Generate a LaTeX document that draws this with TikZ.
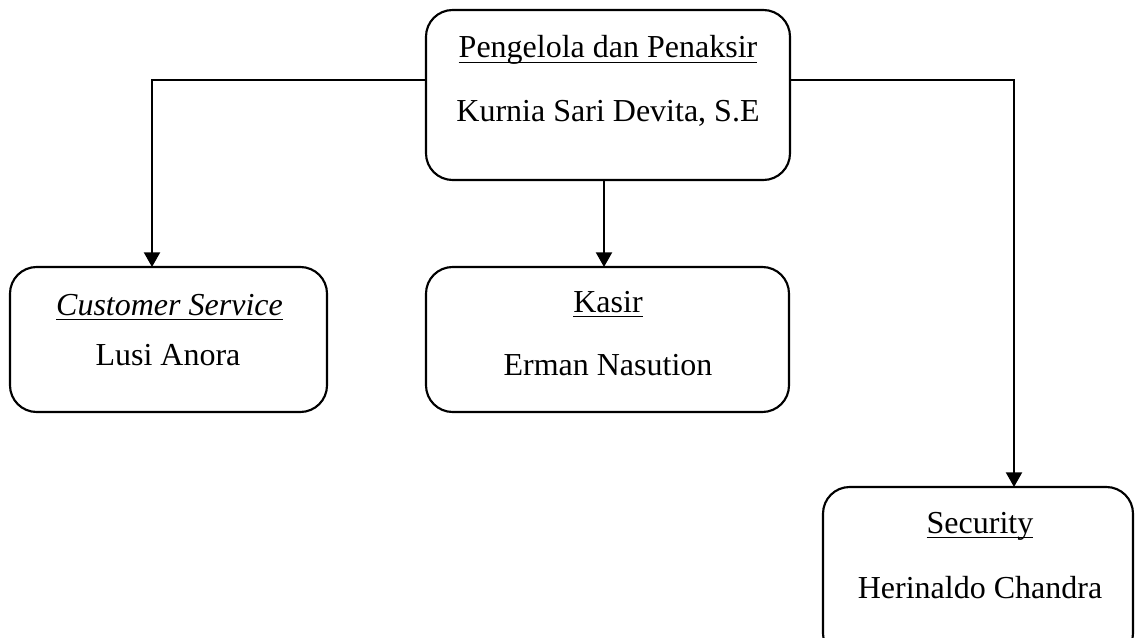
\documentclass[tikz,border=0pt]{standalone}
\usepackage{fontspec}
\setmainfont{Liberation Serif}
\usetikzlibrary{arrows.meta}
\newcommand{\ulx}[1]{\setbox0\hbox{#1}\rlap{\rule[-4pt]{\wd0}{1.3pt}}\box0}
\tikzset{
  orgbox/.style={draw, line width=1.6pt, rounded corners=20pt, inner sep=0pt, outer sep=0pt},
  lbl/.style={anchor=base, inner sep=0pt, font=\fontsize{24}{28}\selectfont},
  conn/.style={line width=1.6pt},
  arr/.style={conn, -{Triangle[length=11pt,width=12pt]}}
}
\begin{document}
\begin{tikzpicture}[x=0.75pt,y=-0.75pt]
\useasboundingbox (0,0) rectangle (1135,638);
\clip (0,0) rectangle (1135,638);
% boxes
\node[orgbox, minimum width=273pt, minimum height=127.5pt] (top) at (608,95) {};
\node[orgbox, minimum width=237.75pt, minimum height=108.75pt] (cs) at (168.5,339.5) {};
\node[orgbox, minimum width=272.25pt, minimum height=108.75pt] (kasir) at (607.5,339.5) {};
\node[orgbox, minimum width=232.5pt, minimum height=129.75pt] (sec) at (978,573.5) {};
% labels
\node[lbl] (t1) at (608,58) {\ulx{Pengelola dan Penaksir}};
\node[lbl] (t2) at (608,122) {Kurnia Sari Devita, S.E};
\node[lbl] (c1) at (169.5,315) {\ulx{\itshape Customer Service}};
\node[lbl] (c2) at (168,365) {Lusi Anora};
\node[lbl] (k1) at (608,312) {\ulx{Kasir}};
\node[lbl] (k2) at (608,375) {Erman Nasution};
\node[lbl] (s1) at (980,533) {\ulx{Security}};
\node[lbl] (s2) at (980,598) {Herinaldo Chandra};
% connectors
\coordinate (lj) at (152,80);
\coordinate (rj) at (1014,80);
\coordinate (mj) at (604,180);
\draw[arr] (top.west |- lj) -- (lj) -- (lj |- cs.north);
\draw[arr] (top.east |- rj) -- (rj) -- (rj |- sec.north);
\draw[arr] (top.south -| mj) -- (mj |- kasir.north);
\end{tikzpicture}
\end{document}
